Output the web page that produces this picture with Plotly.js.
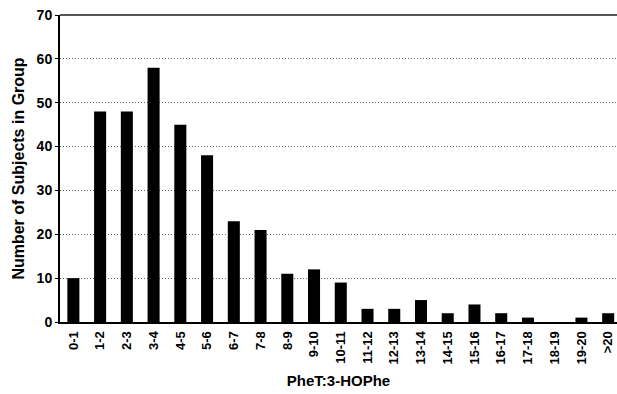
<!DOCTYPE html>
<html>
<head>
<meta charset="utf-8">
<script src="https://cdn.plot.ly/plotly-3.0.1.min.js"></script>
<style>html,body{margin:0;padding:0;background:#fff;}#chart{width:617px;height:394px;}</style>
</head>
<body>
<div id="chart"></div>
<script>
const categories = ["0-1","1-2","2-3","3-4","4-5","5-6","6-7","7-8","8-9","9-10","10-11","11-12","12-13","13-14","14-15","15-16","16-17","17-18","18-19","19-20",">20"];
const counts = [10,48,48,58,45,38,23,21,11,12,9,3,3,5,2,4,2,1,0,1,2];
const yTicks = [0,10,20,30,40,50,60,70];

const font = "Liberation Sans, Arial, sans-serif";

const trace = {
  type: "bar",
  x: categories,
  y: counts,
  width: 0.45,
  marker: {color: "#000000", line: {width: 0}},
  hoverinfo: "skip"
};

const layout = {
  width: 617,
  height: 394,
  margin: {l: 60, r: 0, t: 15, b: 72},
  paper_bgcolor: "#fff",
  plot_bgcolor: "#fff",
  showlegend: false,
  font: {family: font, color: "#000"},
  xaxis: {
    type: "category",
    range: [-0.5, 20.33],
    tickangle: -90,
    tickfont: {family: font, size: 13, weight: "bold", color: "#000"},
    showgrid: false,
    showline: true,
    linecolor: "#000",
    linewidth: 2,
    ticks: "",
    ticklabelstandoff: 2,
    title: {text: "PheT:3-HOPhe", font: {family: font, size: 15, weight: "bold", color: "#000"}, standoff: 12},
    fixedrange: true
  },
  yaxis: {
    range: [0, 70],
    tickvals: yTicks,
    tickfont: {family: font, size: 14, weight: "bold", color: "#000"},
    showgrid: true,
    gridcolor: "#666",
    griddash: "1px,2px",
    gridwidth: 1,
    showline: true,
    linecolor: "#000",
    linewidth: 2,
    ticks: "outside",
    ticklen: 3,
    tickwidth: 1,
    tickcolor: "#000",
    zeroline: false,
    title: {text: "Number of Subjects in Group", font: {family: font, size: 16, weight: "bold", color: "#000"}, standoff: 8},
    fixedrange: true
  },
  shapes: [
    {type: "line", xref: "paper", yref: "paper", x0: 0, x1: 1, y0: 1, y1: 1, line: {color: "#555", width: 2}}
  ]
};

Plotly.newPlot("chart", [trace], layout, {displayModeBar: false, staticPlot: true});
</script>
</body>
</html>
